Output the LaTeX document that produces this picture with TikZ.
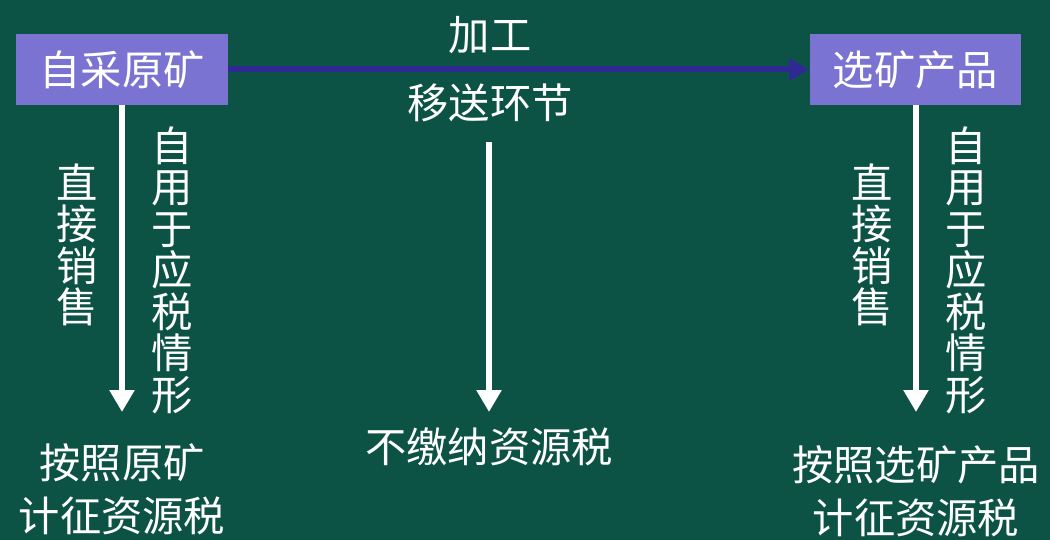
\documentclass[tikz,border=0pt]{standalone}
\usepackage{fontspec}
\setmainfont{Noto Sans CJK SC}
\usepackage{xcolor}
\usepackage{tikz}
\usetikzlibrary{positioning,calc,arrows.meta}

\definecolor{board}{HTML}{0C5346}
\definecolor{boxfill}{HTML}{7A73D2}
\definecolor{flowblue}{HTML}{2F2A93}

\tikzset{
    orebox/.style={fill=boxfill, minimum width=4.24cm, minimum height=1.42cm, text=white, font=\fontsize{23.5}{28}\selectfont},
    label/.style={text=white, font=\fontsize{23.5}{28}\selectfont, align=center, inner sep=0pt},
    vlabel/.style={text=white, font=\fontsize{23.5}{23.6}\selectfont, align=center, inner sep=0pt},
    downarrow/.style={white, line width=0.12cm, -{Triangle[length=0.44cm, width=0.48cm]}}
}

\begin{document}
\begin{tikzpicture}[x=0.02cm, y=-0.02cm]
    \fill [board] (0,0) rectangle (1050,540);
    \useasboundingbox (0,0) rectangle (1050,540);

    \node [orebox] (ore) at (122,69.5) {自采原矿};
    \node [orebox] (product) at (915.5,69.5) {选矿产品};

    % processing arrow
    \draw [flowblue, line width=0.12cm, -{Triangle[length=0.4cm, width=0.44cm]}] (ore) -- (product);
    \node [label] (process) at (490,35) {加工};
    \node [label] (transfer) at (490,103) {移送环节};

    % end points of the vertical arrows
    \coordinate (ore end) at (122,412);
    \coordinate (mid start) at (489,142);
    \coordinate (mid end) at (489,412);
    \coordinate (product end) at (916,412);

    \draw [downarrow] (ore.south) -- (ore end);
    \draw [downarrow] (mid start) -- (mid end);
    \draw [downarrow] (ore.south -| product end) -- (product end);

    \node [vlabel] (direct left) at (77,245) {直\\接\\销\\售};
    \node [vlabel] (self left) at (172,270) {自\\用\\于\\应\\税\\情\\形};
    \node [vlabel] (direct right) at (872,245) {直\\接\\销\\售};
    \node [vlabel] (self right) at (966,270) {自\\用\\于\\应\\税\\情\\形};

    \node [label, font=\fontsize{23.5}{30}\selectfont] (ore tax) at (122,489) {按照原矿\\计征资源税};
    \node [label] (no tax) at (489,447) {不缴纳资源税};
    \node [label, font=\fontsize{23.5}{30}\selectfont] (product tax) at (916,491) {按照选矿产品\\计征资源税};
\end{tikzpicture}
\end{document}
